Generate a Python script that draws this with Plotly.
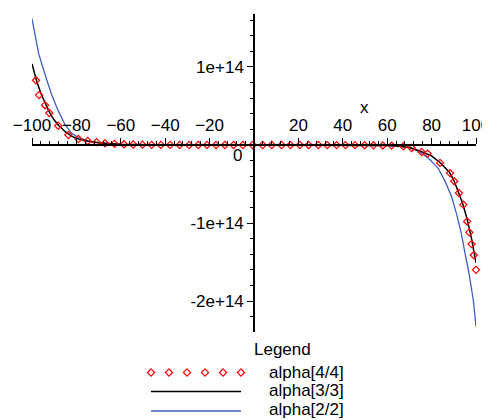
import plotly.graph_objects as go

# values (y in units of 1e14)
x_44 = [-100.1, -98.2, -96.8, -94.1, -92.2, -88.2, -83.6, -79.1, -74.9, -70.9, -67.1,
        -62.8, -58.6, -54.4, -50.2, -46.1, -41.9, -37.8, -33.5, -29.2, -25.1, -21.2,
        -17.1, -13.1, -9.2, -5.0, -0.6, 3.9, 8.0, 12.4, 16.4, 20.6, 24.6, 29.0, 33.0,
        37.2, 41.2, 45.5, 49.8, 53.8, 58.0, 62.0, 67.3, 71.0, 75.5, 78.2, 83.8, 88.3,
        90.2, 92.3, 94.3, 96.0, 97.0, 98.0, 99.0, 100.0]
y_44 = [1.06, 0.83, 0.64, 0.51, 0.41, 0.247, 0.128, 0.077, 0.051, 0.035, 0.022,
        0.014, 0.009, 0.006, 0.004, 0.002, 0.001, 0.001, 0, 0, 0, 0,
        0, 0, 0, 0, 0, 0, 0, 0, 0, 0, 0, 0, -0.001,
        -0.001, -0.001, -0.002, -0.003, -0.004, -0.006, -0.008, -0.017, -0.038, -0.09, -0.11, -0.23, -0.36,
        -0.465, -0.615, -0.765, -0.98, -1.12, -1.27, -1.41, -1.60]

x_33 = [-100, -98, -96, -94, -92, -90, -88, -85, -82, -79, -75, -70, -60, -40, 0,
        40, 60, 66, 70, 75, 80, 84, 88, 90, 92, 94, 96, 98, 100]
y_33 = [1.04, 0.83, 0.66, 0.53, 0.41, 0.32, 0.25, 0.17, 0.11, 0.075, 0.05, 0.03, 0.01, 0.001, 0,
        -0.001, -0.006, -0.015, -0.032, -0.08, -0.14, -0.23, -0.35, -0.45, -0.59, -0.75, -0.95, -1.2, -1.51]

x_22 = [-100, -98.6, -97, -94.1, -91.1, -88.2, -85.1, -82.1, -79.1, -74.6, -70, -60, -40, 0,
        40, 60, 70.3, 74, 78.5, 83, 86, 89, 91.3, 93.5, 95, 96.8, 98.8, 100]
y_22 = [1.62, 1.40, 1.17, 0.90, 0.64, 0.44, 0.26, 0.15, 0.094, 0.05, 0.028, 0.008, 0.001, 0,
        -0.001, -0.008, -0.03, -0.08, -0.167, -0.30, -0.46, -0.66, -0.89, -1.15, -1.38, -1.64, -1.99, -2.33]

names = ["alpha[4/4]", "alpha[3/3]", "alpha[2/2]"]
xticks = [-100, -80, -60, -40, -20, 20, 40, 60, 80, 100]
yticks = [-2e14, -1e14, 1e14]

# the page body has an 8px margin, so the figure sits at (8, 8) in the window
OFF = 8
W, H = 490 - OFF, 420 - OFF


def px(p):
    return (p - OFF) / W


def py(p):
    return 1 - (p - OFF) / H


FONT = "Liberation Sans, Arial, sans-serif"
RED, BLACK, BLUE = "#ff0000", "#000000", "#3d5fc4"
DIAMOND = dict(symbol="diamond-open", size=5.5, color=RED, line=dict(width=1.2))

fig = go.Figure()
fig.add_trace(go.Scatter(x=x_22, y=[v * 1e14 for v in y_22], mode="lines",
                         line=dict(color=BLUE, width=1.3), name=names[2]))
fig.add_trace(go.Scatter(x=x_33, y=[v * 1e14 for v in y_33], mode="lines",
                         line=dict(color=BLACK, width=1.5), name=names[1]))
fig.add_trace(go.Scatter(x=x_44, y=[v * 1e14 for v in y_44], mode="markers",
                         marker=DIAMOND, cliponaxis=False, name=names[0]))

# hand-drawn legend samples on a pixel-space overlay axis (window pixels)
leg_x = [151, 169, 187, 205, 223, 241]
fig.add_trace(go.Scatter(x=leg_x, y=[372.5] * 6, mode="markers", xaxis="x2", yaxis="y2",
                         marker=DIAMOND))
fig.add_trace(go.Scatter(x=[151, 241], y=[391.5, 391.5], mode="lines", xaxis="x2", yaxis="y2",
                         line=dict(color=BLACK, width=1.5)))
fig.add_trace(go.Scatter(x=[151, 241], y=[411, 411], mode="lines", xaxis="x2", yaxis="y2",
                         line=dict(color=BLUE, width=1.3)))

annos = [
    dict(text="0", x=px(243), y=py(145), xanchor="right", yanchor="top"),
    dict(text="x", x=px(364), y=py(107), xanchor="center", yanchor="middle"),
    dict(text="Legend", x=px(253), y=py(349), xanchor="left", yanchor="middle"),
]
for name, row in zip(names, [372, 390.5, 409.5]):
    annos.append(dict(text=name, x=px(268), y=py(row), xanchor="left", yanchor="middle"))
for a in annos:
    a.update(xref="paper", yref="paper", showarrow=False, borderpad=0,
             font=dict(family=FONT, size=17, color="black"))

fig.update_layout(
    template="none",
    width=W, height=H,
    margin=dict(l=0, r=0, t=0, b=0, pad=0),
    paper_bgcolor="white", plot_bgcolor="rgba(0,0,0,0)",
    showlegend=False,
    font=dict(family=FONT, size=17, color="black"),
    xaxis=dict(domain=[px(32), px(476)], range=[-100, 100], anchor="free",
               position=py(145), side="top", automargin=False,
               ticklabeloverflow="allow",
               showline=True, linecolor="black", linewidth=1.5,
               showgrid=False, zeroline=False,
               tickmode="array", tickvals=xticks, ticks="outside", ticklen=6,
               tickwidth=1.2, tickcolor="black",
               minor=dict(dtick=4, tick0=0, ticks="outside", ticklen=3,
                          tickwidth=1, tickcolor="black", showgrid=False)),
    yaxis=dict(domain=[py(332), py(14)], range=[-2.397e14, 1.679e14],
               anchor="free", position=px(254), automargin=False,
               showline=True, linecolor="black", linewidth=1.5,
               showgrid=False, zeroline=False,
               tickmode="array", tickvals=yticks, ticktext=["-2e+14", "-1e+14", "1e+14"],
               ticks="outside", ticklen=6, tickwidth=1.2, tickcolor="black",
               minor=dict(dtick=2e13, tick0=0, ticks="outside", ticklen=3,
                          tickwidth=1, tickcolor="black", showgrid=False)),
    xaxis2=dict(domain=[0, 1], range=[OFF, 490], visible=False, anchor="y2", automargin=False),
    yaxis2=dict(domain=[0, 1], range=[420, OFF], visible=False, anchor="x2", automargin=False),
    annotations=annos,
)

fig.write_html("out.html")
